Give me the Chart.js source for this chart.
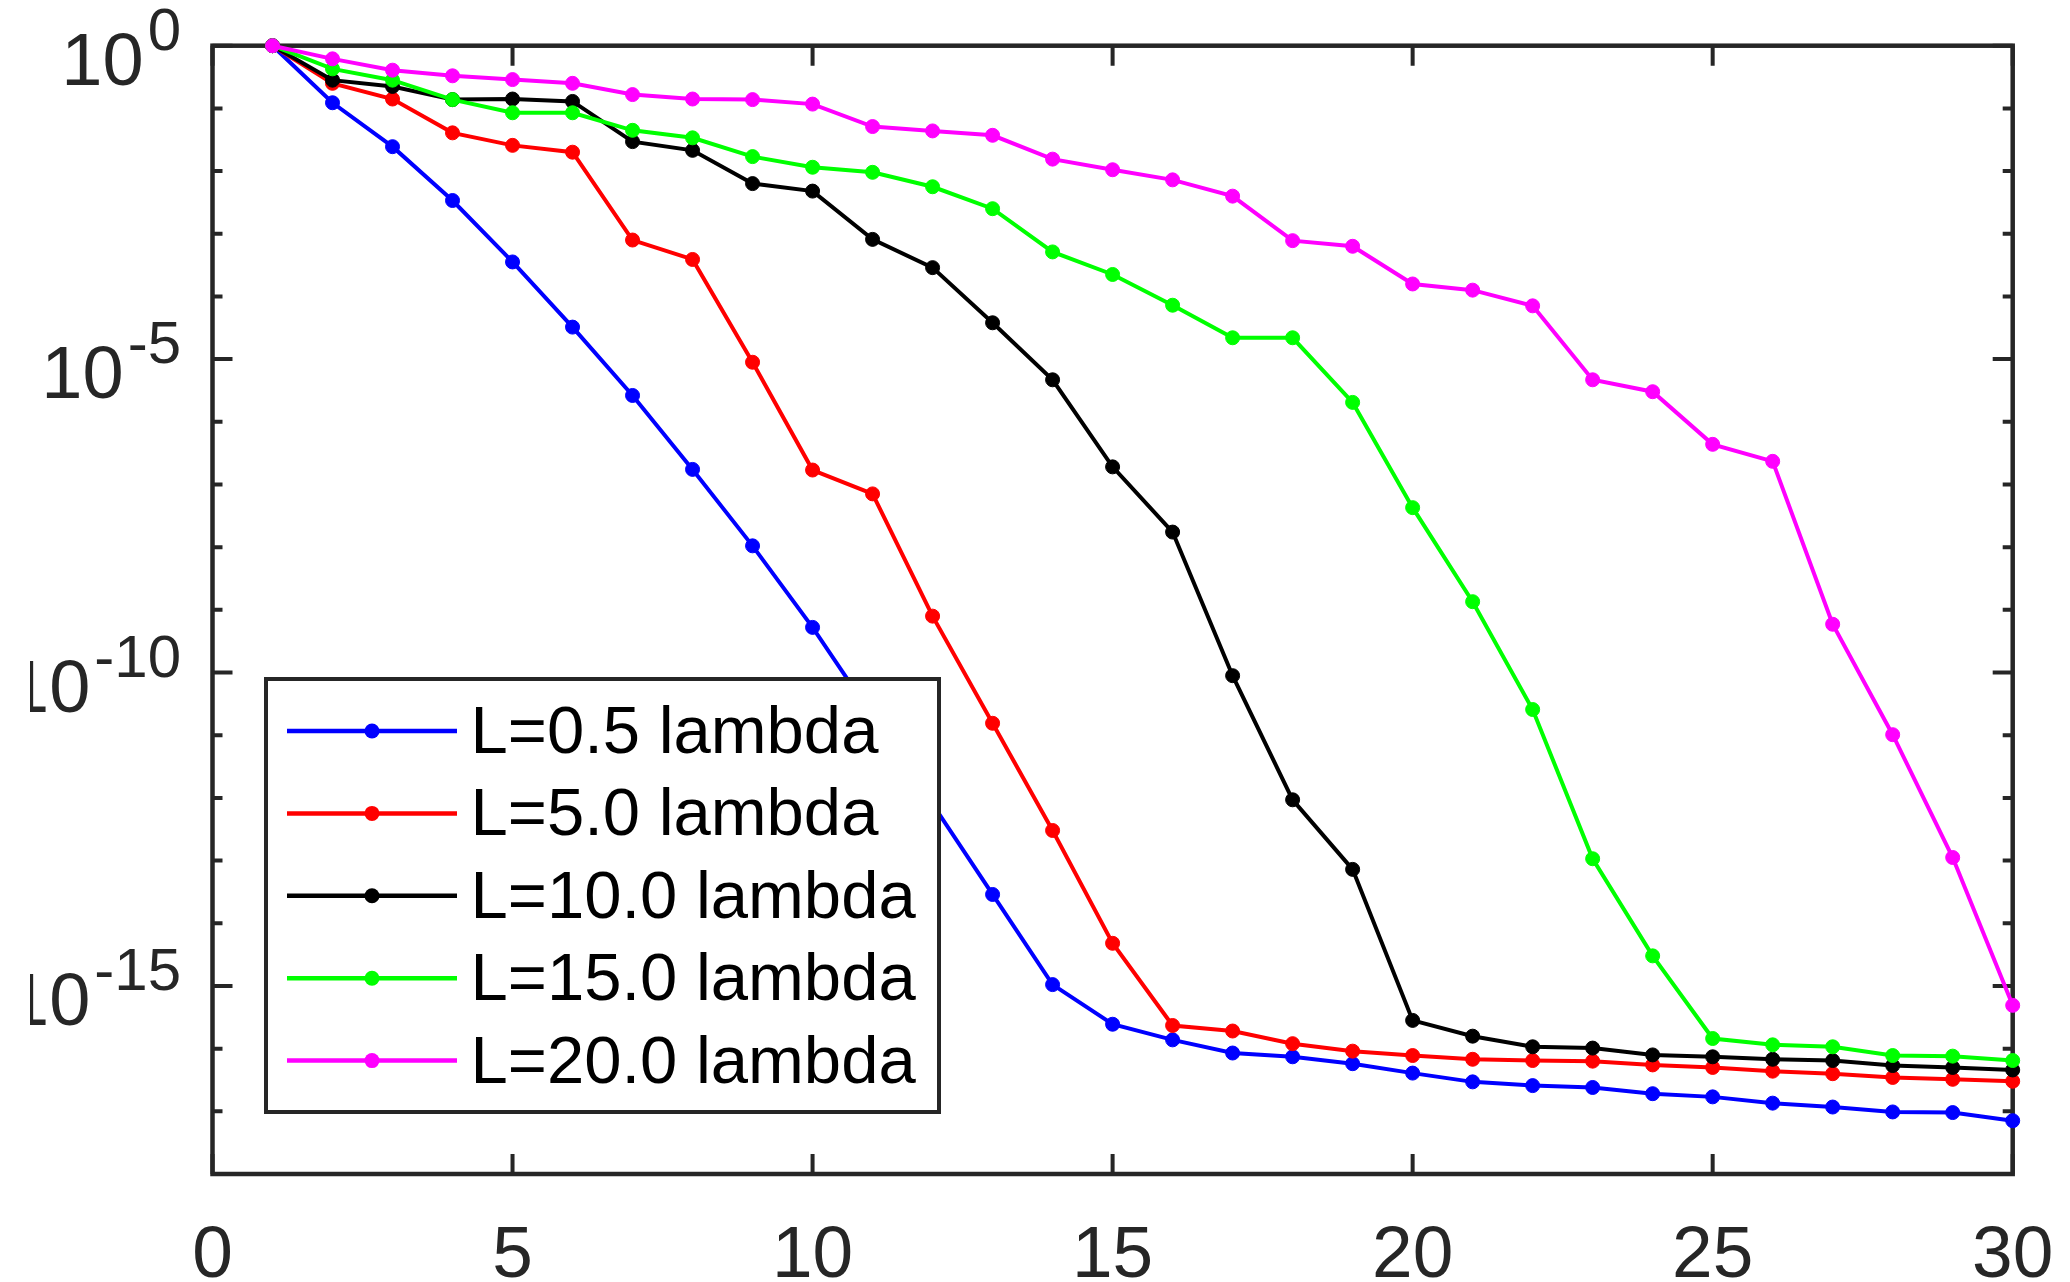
<!DOCTYPE html>
<html>
<head>
<meta charset="utf-8">
<script src="https://cdn.jsdelivr.net/npm/chart.js@4.4.1/dist/chart.umd.min.js"></script>
<style>
html,body{margin:0;padding:0;background:#ffffff;}
canvas{display:block;}
</style>
</head>
<body>
<canvas id="c" width="2070" height="1282"></canvas>
<script>
// ---------- data ----------
const iterations = [1,2,3,4,5,6,7,8,9,10,11,12,13,14,15,16,17,18,19,20,21,22,23,24,25,26,27,28,29,30];

const seriesLabels = ['L=0.5 lambda','L=5.0 lambda','L=10.0 lambda','L=15.0 lambda','L=20.0 lambda'];
const seriesColors = ['#0000ff','#ff0000','#000000','#00ff00','#ff00ff'];

const errL05 = [1, 1.23e-1, 2.45e-2, 3.39e-3, 3.55e-4, 3.24e-5, 2.63e-6, 1.74e-7, 1.05e-8, 5.25e-10,
  2.00e-11, 7.94e-13, 2.88e-14, 1.05e-15, 2.45e-16, 1.38e-16, 8.51e-17, 7.41e-17, 5.75e-17, 4.07e-17,
  2.95e-17, 2.57e-17, 2.40e-17, 1.91e-17, 1.70e-17, 1.35e-17, 1.17e-17, 9.77e-18, 9.55e-18, 7.08e-18];

const errL5 = [1, 2.51e-1, 1.41e-1, 4.07e-2, 2.57e-2, 2.00e-2, 7.94e-4, 3.89e-4, 8.91e-6, 1.70e-7,
  7.08e-8, 7.94e-10, 1.55e-11, 3.02e-13, 4.79e-15, 2.34e-16, 1.91e-16, 1.20e-16, 9.12e-17, 7.76e-17,
  6.76e-17, 6.46e-17, 6.31e-17, 5.50e-17, 5.01e-17, 4.37e-17, 3.98e-17, 3.47e-17, 3.24e-17, 3.02e-17];

const errL10 = [1, 2.82e-1, 2.24e-1, 1.38e-1, 1.41e-1, 1.29e-1, 2.95e-2, 2.14e-2, 6.31e-3, 4.79e-3,
  8.13e-4, 2.88e-4, 3.80e-5, 4.68e-6, 1.91e-7, 1.74e-8, 8.91e-11, 9.33e-13, 7.24e-14, 2.82e-16,
  1.58e-16, 1.07e-16, 1.02e-16, 7.94e-17, 7.41e-17, 6.76e-17, 6.46e-17, 5.37e-17, 5.01e-17, 4.57e-17];

const errL15 = [1, 4.27e-1, 2.82e-1, 1.38e-1, 8.51e-2, 8.51e-2, 4.47e-2, 3.39e-2, 1.70e-2, 1.15e-2,
  9.55e-3, 5.62e-3, 2.51e-3, 5.13e-4, 2.24e-4, 7.24e-5, 2.19e-5, 2.19e-5, 2.04e-6, 4.27e-8,
  1.35e-9, 2.57e-11, 1.07e-13, 3.02e-15, 1.45e-16, 1.15e-16, 1.07e-16, 7.76e-17, 7.59e-17, 6.46e-17];

const errL20 = [1, 6.17e-1, 4.07e-1, 3.31e-1, 2.88e-1, 2.51e-1, 1.66e-1, 1.41e-1, 1.38e-1, 1.17e-1,
  5.13e-2, 4.37e-2, 3.72e-2, 1.55e-2, 1.05e-2, 7.24e-3, 3.98e-3, 7.76e-4, 6.31e-4, 1.58e-4,
  1.26e-4, 7.08e-5, 4.68e-6, 3.02e-6, 4.37e-7, 2.34e-7, 5.89e-10, 1.02e-11, 1.12e-13, 4.90e-16];

const xTickValues = [0, 5, 10, 15, 20, 25, 30];
const xTickLabels = ['0', '5', '10', '15', '20', '25', '30'];
const yMajorTickValues = [1, 1e-5, 1e-10, 1e-15];
const yTickBase = '10';
const yTickExponents = ['0', '-5', '-10', '-15'];
const yMinorTickValues = [1e-1,1e-2,1e-3,1e-4,1e-6,1e-7,1e-8,1e-9,1e-11,1e-12,1e-13,1e-14,1e-16,1e-17];

// ---------- styling ----------
const AXIS_COLOR = '#262626';
const FONT = '"Liberation Sans", Arial, Helvetica, sans-serif';

const allSeries = [errL05, errL5, errL10, errL15, errL20];

const datasets = allSeries.map((vals, i) => ({
  label: seriesLabels[i],
  data: iterations.map((it, k) => ({x: it, y: vals[k]})),
  borderColor: seriesColors[i],
  backgroundColor: seriesColors[i],
  pointBackgroundColor: seriesColors[i],
  pointBorderColor: seriesColors[i],
  pointBorderWidth: 1,
  pointRadius: 7,
  borderWidth: 4,
  tension: 0,
  fill: false,
  clip: false,
  order: allSeries.length - i
}));

const matlabAxes = {
  id: 'matlabAxes',
  beforeDatasetsDraw(chart) {
    const {ctx, chartArea: a, scales: {x, y}} = chart;
    ctx.save();
    ctx.strokeStyle = AXIS_COLOR;
    ctx.lineCap = 'butt';
    ctx.lineWidth = 4;
    ctx.beginPath();
    xTickValues.forEach(v => {
      const px = x.getPixelForValue(v);
      ctx.moveTo(px, a.bottom); ctx.lineTo(px, a.bottom - 20);
      ctx.moveTo(px, a.top); ctx.lineTo(px, a.top + 20);
    });
    yMajorTickValues.forEach(v => {
      const py = y.getPixelForValue(v);
      ctx.moveTo(a.left, py); ctx.lineTo(a.left + 20, py);
      ctx.moveTo(a.right, py); ctx.lineTo(a.right - 20, py);
    });
    yMinorTickValues.forEach(v => {
      const py = y.getPixelForValue(v);
      ctx.moveTo(a.left, py); ctx.lineTo(a.left + 10, py);
      ctx.moveTo(a.right, py); ctx.lineTo(a.right - 10, py);
    });
    ctx.stroke();
    ctx.lineWidth = 4.5;
    ctx.lineJoin = 'miter';
    ctx.strokeRect(a.left, a.top, a.right - a.left, a.bottom - a.top);

    // x tick labels
    ctx.fillStyle = AXIS_COLOR;
    ctx.font = '73px ' + FONT;
    ctx.textAlign = 'center';
    ctx.textBaseline = 'alphabetic';
    xTickValues.forEach((v, i) => {
      ctx.fillText(xTickLabels[i], x.getPixelForValue(v), 1277);
    });

    // y tick labels 10^n (clipped at left like the original figure)
    ctx.save();
    ctx.beginPath();
    ctx.rect(30, 0, a.left - 30, chart.height);
    ctx.clip();
    const rightEdge = 181;
    yMajorTickValues.forEach((v, i) => {
      const py = y.getPixelForValue(v);
      ctx.font = '60px ' + FONT;
      ctx.textAlign = 'right';
      const supW = ctx.measureText(yTickExponents[i]).width;
      ctx.fillText(yTickExponents[i], rightEdge, py + 4);
      ctx.font = '74px ' + FONT;
      ctx.fillText(yTickBase, rightEdge - supW - 4, py + 39);
    });
    ctx.restore();
    ctx.restore();
  },
  afterDatasetsDraw(chart) {
    const {ctx} = chart;
    ctx.save();
    const bx = 266, by = 679, bw = 673, bh = 433;
    ctx.fillStyle = '#ffffff';
    ctx.fillRect(bx, by, bw, bh);
    ctx.strokeStyle = AXIS_COLOR;
    ctx.lineWidth = 4;
    ctx.strokeRect(bx, by, bw, bh);
    chart.data.datasets.forEach((ds, i) => {
      const cy = 731 + i * 82.4;
      ctx.strokeStyle = ds.borderColor;
      ctx.lineWidth = 4.5;
      ctx.beginPath();
      ctx.moveTo(287, cy); ctx.lineTo(457, cy);
      ctx.stroke();
      ctx.fillStyle = ds.borderColor;
      ctx.beginPath();
      ctx.arc(372, cy, 7.5, 0, Math.PI * 2);
      ctx.fill();
      ctx.fillStyle = '#000000';
      ctx.font = '67px ' + FONT;
      ctx.textAlign = 'left';
      ctx.textBaseline = 'alphabetic';
      ctx.fillText(ds.label, 470.5, cy + 22);
    });
    ctx.restore();
  }
};

new Chart(document.getElementById('c'), {
  type: 'line',
  data: {datasets},
  options: {
    responsive: false,
    animation: false,
    devicePixelRatio: 1,
    layout: {padding: {left: 212.5, top: 45.7, right: 57.3, bottom: 108}},
    plugins: {legend: {display: false}, tooltip: {enabled: false}},
    scales: {
      x: {type: 'linear', min: 0, max: 30, display: false},
      y: {type: 'logarithmic', min: 1e-18, max: 1, display: false}
    }
  },
  plugins: [matlabAxes]
});
</script>
</body>
</html>
